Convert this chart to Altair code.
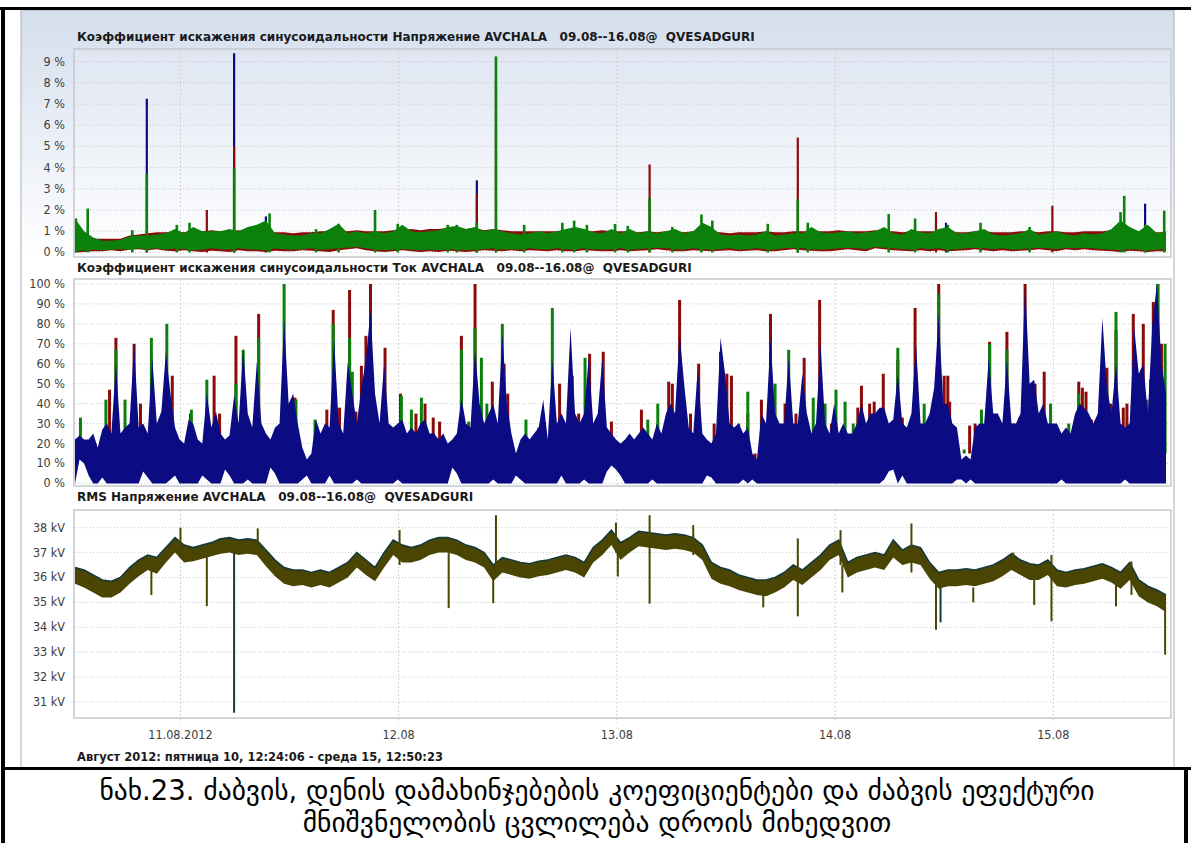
import altair as alt
import pandas as pd

# ---------------- time base ----------------
T0 = pd.Timestamp("2012-08-10 12:24:06")


def stamp(h):
    return (T0 + pd.Timedelta(hours=h)).strftime("%Y-%m-%dT%H:%M:%S")


HOURLY = [stamp(h) for h in range(121)]
HALF = [stamp(i * 0.5) for i in range(241)]

# ---------------- panel 1: THD voltage, % (hourly) ----------------
thdu_green_hi = [1.6, 1.0, 0.7, 0.55, 0.55, 0.6, 0.75, 0.8, 0.8, 0.85,
                 0.9, 1.1, 0.9, 1.2, 1.0, 1.0, 1.0, 1.1, 1.0, 1.2,
                 1.3, 1.5, 0.9, 0.85, 0.8, 0.8, 0.9, 0.9, 1.1, 1.35,
                 0.9, 1.0, 0.9, 1.0, 0.9, 1.0, 1.3, 1.0, 0.95, 1.0,
                 1.05, 1.2, 1.25, 1.1, 1.2, 1.0, 1.1, 1.0, 0.9, 0.85,
                 0.9, 1.0, 0.9, 1.0, 1.1, 1.2, 1.1, 0.95, 0.9, 1.1,
                 0.9, 1.1, 0.9, 1.0, 0.9, 1.0, 1.1, 0.9, 1.0, 1.4,
                 1.2, 0.85, 0.8, 0.85, 0.8, 0.85, 1.0, 0.8, 0.85, 0.9,
                 0.9, 1.2, 0.95, 0.9, 0.95, 1.0, 0.9, 0.95, 1.0, 1.2,
                 0.9, 0.85, 1.1, 0.95, 0.9, 1.1, 1.2, 0.9, 0.9, 1.0,
                 1.1, 0.85, 0.8, 0.85, 0.9, 1.1, 0.85, 0.9, 1.0, 0.85,
                 0.8, 0.9, 0.85, 0.9, 1.1, 1.5, 1.2, 1.0, 1.3, 0.9,
                 1.0]
thdu_green_lo = [0.05, 0.08, 0.12, 0.1, 0.12, 0.15, 0.12, 0.18, 0.15, 0.2,
                 0.12, 0.18, 0.15, 0.1, 0.12, 0.2, 0.15, 0.12, 0.2, 0.15,
                 0.12, 0.1, 0.18, 0.15, 0.12, 0.15, 0.2, 0.12, 0.15, 0.2,
                 0.22, 0.25, 0.2, 0.12, 0.1, 0.12, 0.15, 0.12, 0.1, 0.12,
                 0.1, 0.15, 0.12, 0.1, 0.12, 0.15, 0.2, 0.12, 0.15, 0.12,
                 0.2, 0.15, 0.12, 0.2, 0.15, 0.12, 0.2, 0.15, 0.12, 0.15,
                 0.2, 0.12, 0.15, 0.2, 0.22, 0.2, 0.15, 0.12, 0.2, 0.15,
                 0.12, 0.15, 0.2, 0.12, 0.15, 0.2, 0.15, 0.12, 0.2, 0.22,
                 0.2, 0.15, 0.12, 0.15, 0.2, 0.22, 0.2, 0.15, 0.25, 0.22,
                 0.2, 0.15, 0.12, 0.2, 0.15, 0.2, 0.12, 0.15, 0.2, 0.22,
                 0.2, 0.15, 0.2, 0.12, 0.15, 0.2, 0.22, 0.2, 0.15, 0.22,
                 0.2, 0.22, 0.2, 0.15, 0.12, 0.1, 0.15, 0.12, 0.08, 0.12,
                 0.15]
thdu_red_hi = [1.0, 0.8, 0.65, 0.65, 0.65, 0.65, 0.8, 0.85, 0.9, 0.95,
               0.95, 1.0, 0.95, 1.0, 1.0, 1.05, 1.0, 1.0, 1.05, 1.0,
               1.05, 1.0, 0.95, 0.95, 0.9, 0.95, 0.95, 1.0, 1.0, 1.05,
               1.0, 1.05, 1.0, 1.0, 1.0, 1.05, 1.05, 1.1, 1.05, 1.1,
               1.1, 1.15, 1.15, 1.1, 1.15, 1.05, 1.1, 1.05, 1.0, 1.0,
               1.0, 1.0, 1.0, 1.0, 1.05, 1.0, 1.0, 1.0, 1.05, 1.0,
               1.0, 1.0, 0.95, 1.0, 0.95, 1.0, 1.0, 0.95, 1.0, 1.0,
               0.95, 0.95, 0.9, 0.95, 0.95, 0.95, 1.0, 0.95, 0.95, 1.0,
               1.0, 1.0, 1.0, 1.0, 1.05, 1.0, 1.0, 1.0, 1.05, 1.0,
               1.0, 0.95, 1.0, 1.0, 1.0, 1.0, 1.05, 0.95, 0.95, 1.0,
               1.0, 0.95, 0.95, 0.95, 1.0, 1.0, 0.95, 1.0, 1.0, 0.95,
               0.95, 1.0, 1.0, 1.0, 1.05, 1.0, 1.0, 0.95, 1.0, 0.95,
               0.95]
thdu_red_lo = [0.0, 0.02, 0.05, 0.05, 0.1, 0.05, 0.12, 0.15, 0.1, 0.15,
               0.08, 0.05, 0.1, 0.05, 0.02, 0.08, 0.05, 0.02, 0.1, 0.05,
               0.05, 0.02, 0.08, 0.05, 0.05, 0.1, 0.08, 0.05, 0.02, 0.1,
               0.15, 0.2, 0.1, 0.05, 0.02, 0.05, 0.1, 0.05, 0.02, 0.05,
               0.02, 0.08, 0.05, 0.02, 0.05, 0.1, 0.08, 0.05, 0.1, 0.05,
               0.1, 0.08, 0.05, 0.1, 0.05, 0.05, 0.1, 0.08, 0.05, 0.05,
               0.1, 0.05, 0.08, 0.1, 0.15, 0.1, 0.05, 0.05, 0.1, 0.08,
               0.05, 0.08, 0.1, 0.05, 0.08, 0.1, 0.05, 0.05, 0.1, 0.15,
               0.1, 0.08, 0.05, 0.05, 0.1, 0.15, 0.1, 0.05, 0.2, 0.15,
               0.1, 0.08, 0.05, 0.1, 0.05, 0.1, 0.05, 0.08, 0.1, 0.15,
               0.1, 0.05, 0.1, 0.05, 0.08, 0.1, 0.15, 0.1, 0.05, 0.15,
               0.1, 0.15, 0.1, 0.08, 0.05, 0.02, 0.08, 0.05, 0.02, 0.05,
               0.05]
# spikes (hour offset, peak %)
thdu_blue_spk_h = [7.9, 17.5, 21.0, 44.2, 95.8, 117.7]
thdu_blue_spk_v = [7.25, 9.4, 1.7, 3.4, 1.4, 2.3]
thdu_red_spk_h = [14.5, 17.5, 44.2, 46.3, 63.2, 79.5, 94.7, 107.5]
thdu_red_spk_v = [2.0, 5.0, 2.75, 8.2, 4.15, 5.42, 1.9, 2.2]
thdu_green_spk_h = [0.1, 1.4, 6.3, 7.9, 11.2, 12.6, 17.5, 21.4, 26.5, 29.0,
                    33.0, 35.5, 41.0, 42.0, 44.2, 46.3, 49.4, 53.6, 54.9, 56.3,
                    59.4, 60.8, 63.2, 65.7, 68.9, 70.1, 76.2, 79.5, 80.6, 89.5,
                    92.4, 96.0, 99.6, 105.0, 115.0, 115.4, 117.7, 119.8]
thdu_green_spk_v = [1.6, 2.07, 1.05, 3.7, 1.3, 1.4, 3.96, 1.84, 1.1, 1.35,
                    2.0, 1.35, 1.3, 1.3, 1.4, 9.25, 1.3, 1.4, 1.5, 1.3,
                    1.34, 1.25, 2.55, 1.2, 1.79, 1.5, 1.35, 2.5, 1.4, 1.81,
                    1.6, 1.3, 1.4, 1.2, 1.9, 2.67, 1.3, 1.97]

# ---------------- panel 2: THD current, % (half-hourly) ----------------
thdi_blue_hi = [22, 24, 22, 22, 25, 18, 27, 30, 25, 60,
                25, 28, 30, 70, 28, 30, 25, 63, 30, 36,
                66, 45, 28, 22, 20, 32, 30, 22, 20, 45,
                28, 36, 25, 22, 24, 44, 30, 68, 35, 28,
                61, 30, 25, 22, 28, 30, 82, 40, 45, 30,
                18, 12, 15, 32, 25, 30, 28, 72, 30, 25,
                61, 45, 30, 48, 62, 87, 45, 30, 60, 30,
                28, 30, 32, 25, 28, 25, 30, 32, 25, 25,
                22, 25, 20, 22, 25, 43, 30, 28, 67, 40,
                30, 35, 40, 30, 75, 40, 25, 15, 22, 25,
                22, 25, 28, 42, 22, 62, 30, 35, 30, 78,
                35, 30, 35, 63, 30, 35, 63, 28, 25, 22,
                20, 22, 25, 22, 25, 28, 25, 22, 30, 25,
                35, 40, 35, 75, 50, 28, 25, 58, 25, 22,
                20, 25, 73, 55, 30, 28, 30, 25, 28, 15,
                12, 35, 30, 73, 35, 30, 30, 63, 30, 30,
                55, 35, 25, 30, 70, 30, 25, 40, 25, 30,
                25, 25, 30, 40, 30, 35, 35, 38, 38, 30,
                32, 55, 30, 28, 35, 70, 30, 30, 35, 48,
                85, 40, 40, 30, 28, 12, 14, 12, 28, 30,
                30, 63, 35, 35, 30, 62, 30, 30, 35, 100,
                50, 52, 35, 40, 30, 30, 30, 25, 28, 25,
                35, 40, 38, 35, 30, 35, 83, 48, 35, 60,
                30, 28, 30, 78, 55, 60, 35, 80, 100, 60,
                45]
thdi_blue_lo = [0, 12, 10, 4, 0, 0, 3, 0, 0, 0,
                0, 0, 0, 0, 0, 6, 3, 0, 0, 0,
                0, 2, 4, 0, 0, 0, 0, 0, 4, 2,
                0, 0, 0, 7, 4, 0, 0, 0, 2, 0,
                0, 0, 0, 8, 5, 0, 0, 0, 0, 0,
                2, 4, 0, 0, 0, 0, 4, 0, 0, 0,
                0, 0, 2, 0, 0, 0, 0, 0, 0, 0,
                0, 2, 0, 0, 0, 0, 0, 0, 0, 0,
                0, 0, 0, 8, 5, 0, 0, 0, 0, 0,
                0, 0, 2, 0, 0, 0, 0, 4, 2, 0,
                0, 0, 0, 0, 0, 0, 0, 4, 0, 0,
                0, 0, 2, 0, 0, 0, 0, 6, 9, 7,
                4, 0, 0, 0, 0, 0, 0, 2, 0, 0,
                0, 0, 0, 0, 0, 0, 0, 0, 0, 4,
                3, 0, 0, 0, 0, 0, 0, 2, 0, 2,
                0, 0, 0, 0, 0, 0, 0, 0, 0, 0,
                0, 0, 0, 0, 0, 0, 0, 0, 0, 0,
                0, 0, 0, 0, 0, 0, 0, 0, 2, 6,
                7, 0, 4, 0, 0, 0, 0, 0, 0, 0,
                0, 0, 0, 0, 2, 2, 0, 2, 0, 0,
                0, 0, 0, 0, 0, 0, 0, 0, 0, 0,
                0, 0, 0, 0, 0, 0, 0, 2, 0, 0,
                0, 0, 0, 0, 0, 0, 0, 0, 0, 0,
                0, 2, 0, 0, 0, 0, 0, 0, 0, 0,
                0]
thdi_red_h = [3.8, 4.5, 6.5, 7.2, 10.7, 12.7, 15.3, 15.9, 17.7, 20.2,
              24.2, 27.7, 28.4, 29.1, 30.2, 30.9, 31.5, 32.0, 32.5, 34.1,
              35.8, 37.5, 38.5, 39.4, 40.1, 42.5, 44.0, 45.9, 47.2, 47.6,
              53.3, 55.4, 56.6, 57.6, 58.1, 59.0, 62.3, 65.3, 65.7, 66.5,
              67.7, 68.6, 70.3, 71.0, 71.7, 72.2, 74.0, 74.8, 75.5, 76.5,
              78.1, 79.3, 80.2, 81.9, 83.2, 86.1, 86.5, 87.4, 87.9, 88.9,
              90.5, 91.0, 92.4, 95.0, 95.6, 96.0, 96.2, 98.4, 99.0, 100.6,
              101.6, 102.5, 103.2, 103.9, 104.5, 105.6, 106.6, 110.4, 110.8, 111.2,
              111.8, 113.5, 113.9, 114.5, 115.3, 115.7, 116.4, 117.5, 118.3, 118.6,
              119.1, 119.5]
thdi_red_v = [47, 73, 70, 40, 54, 35, 54, 35, 74, 85,
              43, 37, 87, 38, 97, 36, 59, 74, 100, 68,
              45, 35, 40, 33, 31, 74, 100, 51, 60, 45,
              50, 35, 65, 32, 66, 31, 37, 51, 50, 92,
              35, 60, 30, 66, 55, 54, 35, 12, 42, 85,
              40, 35, 63, 92, 30, 38, 49, 40, 41, 55,
              62, 33, 88, 100, 54, 54, 41, 29, 30, 71,
              30, 76, 30, 33, 100, 50, 56, 51, 48, 46,
              32, 58, 40, 77, 38, 40, 85, 80, 52, 91,
              100, 70]
thdi_green_h = [0.6, 3.4, 4.5, 5.5, 8.4, 10.1, 12.8, 14.5, 17.7, 18.5,
                20.2, 23.0, 24.3, 26.4, 28.4, 30.2, 30.5, 33.4, 35.9, 37.0,
                38.1, 42.5, 43.3, 44.0, 44.7, 45.3, 47.0, 49.6, 51.0, 52.5,
                54.7, 56.1, 63.0, 64.1, 73.0, 74.0, 77.0, 78.5, 81.2, 82.5,
                83.7, 84.4, 84.7, 85.6, 90.5, 93.4, 95.0, 97.8, 99.7, 100.6,
                102.5, 106.2, 107.3, 109.3, 110.4, 113.5, 114.5, 117.9, 119.1, 119.9]
thdi_green_v = [33, 42, 67, 42, 73, 80, 37, 52, 50, 67,
                73, 100, 42, 32, 80, 73, 56, 30, 44, 37,
                43, 67, 31, 78, 63, 40, 80, 32, 28, 88,
                54, 63, 32, 40, 30, 46, 50, 67, 43, 40,
                47, 28, 41, 30, 68, 40, 95, 17, 37, 70,
                67, 35, 40, 30, 45, 48, 86, 42, 100, 70]

# ---------------- panel 3: RMS voltage, kV (hourly) ----------------
rms_hi = [36.4, 36.3, 36.1, 35.9, 35.85, 36.0, 36.4, 36.7, 36.9, 36.8,
          37.2, 37.6, 37.3, 37.2, 37.3, 37.4, 37.55, 37.6, 37.5, 37.55,
          37.5, 37.1, 36.7, 36.4, 36.3, 36.3, 36.2, 36.3, 36.2, 36.4,
          36.6, 37.0, 36.7, 36.4, 37.0, 37.5, 37.3, 37.2, 37.3, 37.5,
          37.6, 37.6, 37.5, 37.3, 37.2, 37.0, 36.5, 36.8, 36.7, 36.6,
          36.55, 36.65, 36.7, 36.8, 36.9, 36.8, 36.6, 37.2, 37.5, 37.9,
          37.4, 37.6, 37.85, 37.8, 37.75, 37.7, 37.75, 37.7, 37.6, 37.3,
          36.6, 36.4, 36.3, 36.1, 36.0, 35.9, 35.9, 36.0, 36.2, 36.5,
          36.3, 36.6, 36.9, 37.3, 37.5, 36.6, 36.8, 36.9, 37.0, 36.9,
          37.5, 37.1, 37.3, 37.2, 36.6, 36.2, 36.3, 36.3, 36.35, 36.3,
          36.4, 36.5, 36.7, 36.95, 36.7, 36.55, 36.5, 36.7, 36.3, 36.2,
          36.3, 36.35, 36.45, 36.55, 36.4, 36.2, 36.6, 35.9, 35.65, 35.5,
          35.3]
rms_lo = [35.75, 35.6, 35.4, 35.2, 35.2, 35.4, 35.75, 36.05, 36.3, 36.15,
          36.6, 37.0, 36.6, 36.65, 36.75, 36.85, 36.95, 37.0, 36.9, 36.95,
          36.9, 36.45, 36.05, 35.75, 35.65, 35.7, 35.6, 35.7, 35.6, 35.8,
          36.0, 36.4, 36.1, 35.85, 36.4, 36.9, 36.6, 36.6, 36.7, 36.9,
          37.0, 37.0, 36.9, 36.7, 36.6, 36.4, 35.85, 36.2, 36.1, 36.0,
          35.95, 36.05, 36.1, 36.2, 36.3, 36.2, 36.0, 36.6, 36.9, 37.3,
          36.7, 37.0, 37.25, 37.2, 37.15, 37.1, 37.15, 37.1, 37.0, 36.7,
          35.95, 35.75, 35.65, 35.5, 35.4, 35.3, 35.25, 35.4, 35.6, 35.9,
          35.7, 36.0, 36.3, 36.7, 36.9, 36.0, 36.2, 36.3, 36.4, 36.3,
          36.8, 36.5, 36.6, 36.5, 35.95, 35.55, 35.65, 35.65, 35.7, 35.65,
          35.75, 35.85, 36.05, 36.3, 36.1, 35.9, 35.9, 36.1, 35.65, 35.6,
          35.7, 35.75, 35.85, 35.95, 35.8, 35.55, 35.9, 35.25, 35.0, 34.85,
          34.6]
rms_spk_h = [8.4, 11.6, 14.5, 20.1, 35.7, 41.1, 46.0, 46.3, 59.5, 59.7,
             63.2, 68.0, 75.7, 79.5, 84.2, 84.4, 92.0, 94.7, 98.8, 103.2,
             105.5, 107.4, 114.5, 116.2, 119.9]
rms_spk_lo = [35.3, 36.8, 34.85, 37.0, 36.5, 34.77, 34.97, 36.3, 37.0, 36.04,
              34.95, 36.9, 34.8, 34.44, 36.5, 35.4, 36.2, 33.9, 35.0, 36.3,
              34.9, 34.24, 34.84, 35.3, 32.9]
rms_spk_hi = [36.5, 38.0, 37.0, 37.97, 37.9, 37.0, 36.0, 38.5, 38.2, 37.0,
              38.5, 38.1, 35.6, 37.57, 37.9, 36.5, 38.17, 35.8, 35.6, 37.0,
              35.9, 36.9, 35.8, 36.64, 35.0]
rms_teal_spk_h = [17.5, 95.2]
rms_teal_spk_lo = [30.57, 34.2]
rms_teal_spk_hi = [37.0, 35.6]

# ---------------- axes text ----------------
ticks_thdu = [0, 1, 2, 3, 4, 5, 6, 7, 8, 9]
ticks_thdi = [0, 10, 20, 30, 40, 50, 60, 70, 80, 90, 100]
ticks_rms = [31, 32, 33, 34, 35, 36, 37, 38]
day_times = ["2012-08-11T00:00:00", "2012-08-12T00:00:00", "2012-08-13T00:00:00",
             "2012-08-14T00:00:00", "2012-08-15T00:00:00"]
day_labels = ["11.08.2012", "12.08", "13.08", "14.08", "15.08"]

title_u = "Коэффициент искажения синусоидальности Напряжение AVCHALA\u00a0\u00a0\u00a009.08--16.08@\u00a0\u00a0QVESADGURI"
title_i = "Коэффициент искажения синусоидальности Ток AVCHALA\u00a0\u00a0\u00a009.08--16.08@\u00a0\u00a0QVESADGURI"
title_r = "RMS Напряжение AVCHALA\u00a0\u00a0\u00a009.08--16.08@\u00a0\u00a0QVESADGURI"
footer = "Август 2012: пятница 10, 12:24:06 - среда 15, 12:50:23"
caption_1 = "ნახ.23. ძაბვის, დენის დამახინჯებების კოეფიციენტები და ძაბვის ეფექტური"
caption_2 = "მნიშვნელობის ცვლილება დროის მიხედვით"

assert len(thdu_green_hi) == len(thdu_green_lo) == len(thdu_red_hi) == len(thdu_red_lo) == 121
assert len(thdi_blue_hi) == len(thdi_blue_lo) == 241
assert len(rms_hi) == len(rms_lo) == 121
assert len(thdi_red_h) == len(thdi_red_v) and len(thdi_green_h) == len(thdi_green_v)
assert len(thdu_green_spk_h) == len(thdu_green_spk_v)
assert len(rms_spk_h) == len(rms_spk_lo) == len(rms_spk_hi)

# ---------------- styles ----------------
RED = "#8b0b0b"
GREEN = "#0b800b"
BLUE = "#0b0b84"
OLIVE = "#4a4502"
TEAL = "#143a3c"
GRID = "#c9c9c9"
LBL_FONT = "Liberation Sans Narrow, DejaVu Sans Condensed, sans-serif"
TTL_FONT = "DejaVu Sans, sans-serif"
SPIKE_BASE_I = 15  # current-THD tips start inside the blue mass

XL, XR = 75, 1170
P1 = (49, 257)
P2 = (279, 486)
P3 = (510, 718)

xscale = alt.Scale(
    domain=[alt.DateTime(year=2012, month=8, date=10, hours=12, minutes=24, seconds=6),
            alt.DateTime(year=2012, month=8, date=15, hours=12, minutes=50, seconds=23)],
    range=[XL, XR])
X = alt.X("t:T", scale=xscale, axis=None)

s1 = alt.Scale(domain=[-0.17, 9.6], range=[256, 49], nice=False, zero=False)
s2 = alt.Scale(domain=[-0.8, 102.5], range=[485, 279], nice=False, zero=False)
s3 = alt.Scale(domain=[30.37, 38.71], range=[717.7, 510], nice=False, zero=False)

ONE = pd.DataFrame({"k": [0]})


def box(x, x2, y, y2, **kw):
    return alt.Chart(ONE).mark_rect(**kw).encode(
        x=alt.value(x), x2=alt.value(x2), y=alt.value(y), y2=alt.value(y2))


def label(text, x, y, **kw):
    return alt.Chart(ONE).mark_text(text=text, **kw).encode(x=alt.value(x), y=alt.value(y))


def band(times, lo, hi, scale, color):
    df = pd.DataFrame({"t": times, "lo": lo, "hi": hi})
    return alt.Chart(df).mark_area(color=color, opacity=1, interpolate="linear").encode(
        x=X, y=alt.Y("lo:Q", scale=scale, axis=None), y2=alt.Y2("hi:Q"))


def spikes(hours, lo, hi, scale, color, width):
    df = pd.DataFrame({"t": [stamp(h) for h in hours], "lo": lo, "hi": hi})
    return alt.Chart(df).mark_rule(color=color, strokeWidth=width).encode(
        x=X, y=alt.Y("lo:Q", scale=scale, axis=None), y2=alt.Y2("hi:Q"))


def hgrid(ticks, scale):
    df = pd.DataFrame({"v": ticks})
    return alt.Chart(df).mark_rule(color=GRID, strokeWidth=1, strokeDash=[1, 2]).encode(
        y=alt.Y("v:Q", scale=scale, axis=None), x=alt.value(XL), x2=alt.value(XR))


def vgrid(top, bottom):
    df = pd.DataFrame({"t": day_times})
    return alt.Chart(df).mark_rule(color="#d0d0d0", strokeWidth=1, strokeDash=[2, 2]).encode(
        x=X, y=alt.value(top), y2=alt.value(bottom))


def ylabels(ticks, texts, scale):
    df = pd.DataFrame({"v": ticks, "s": texts})
    return alt.Chart(df).mark_text(align="right", baseline="middle", font=LBL_FONT,
                                   fontSize=12.5, color="#3c3c3c").encode(
        y=alt.Y("v:Q", scale=scale, axis=None), x=alt.value(65), text="s:N")


def const(n, v):
    return [v] * n


layers = [
    # screenshot background
    box(21, 1174, 10, 258, fill=alt.Gradient(
        gradient="linear", x1=0, x2=0, y1=0, y2=1,
        stops=[alt.GradientStop(color="#d4deed", offset=0),
               alt.GradientStop(color="#ffffff", offset=1)])),
    box(XL, XR, P1[0], P1[1], fill=alt.Gradient(
        gradient="linear", x1=0, x2=0, y1=0, y2=1,
        stops=[alt.GradientStop(color="#dfe6f2", offset=0),
               alt.GradientStop(color="#ffffff", offset=1)])),
    # grids
    hgrid(ticks_thdu, s1), hgrid(ticks_thdi, s2), hgrid(ticks_rms, s3),
    vgrid(P1[0], P1[1]), vgrid(P2[0], P2[1]), vgrid(P3[0], P3[1] + 5),
    # panel 1 data
    spikes(thdu_blue_spk_h, const(len(thdu_blue_spk_h), 0), thdu_blue_spk_v, s1, BLUE, 2.2),
    band(HOURLY, thdu_red_lo, thdu_red_hi, s1, RED),
    spikes(thdu_red_spk_h, const(len(thdu_red_spk_h), 0), thdu_red_spk_v, s1, RED, 2.2),
    band(HOURLY, thdu_green_lo, thdu_green_hi, s1, GREEN),
    spikes(thdu_green_spk_h, const(len(thdu_green_spk_h), 0), thdu_green_spk_v, s1, GREEN, 2.6),
    # panel 2 data
    spikes(thdi_red_h, const(len(thdi_red_h), SPIKE_BASE_I), thdi_red_v, s2, RED, 3),
    spikes(thdi_green_h, const(len(thdi_green_h), SPIKE_BASE_I), thdi_green_v, s2, GREEN, 3),
    band(HALF, thdi_blue_lo, thdi_blue_hi, s2, BLUE),
    # panel 3 data
    band(HOURLY, rms_lo, rms_hi, s3, OLIVE),
    alt.Chart(pd.DataFrame({"t": HOURLY, "v": rms_hi})).mark_line(color=TEAL, strokeWidth=1.6).encode(
        x=X, y=alt.Y("v:Q", scale=s3, axis=None)),
    spikes(rms_spk_h, rms_spk_lo, rms_spk_hi, s3, OLIVE, 2),
    spikes(rms_teal_spk_h, rms_teal_spk_lo, rms_teal_spk_hi, s3, TEAL, 2),
    # plot frames
    box(XL - 1, XR + 1, P1[0], P1[1], fillOpacity=0, stroke="#c3c8cf", strokeWidth=1.5),
    box(XL - 1, XR + 1, P2[0], P2[1], fillOpacity=0, stroke="#c3c8cf", strokeWidth=1.5),
    box(XL - 1, XR + 1, P3[0], P3[1], fillOpacity=0, stroke="#c3c8cf", strokeWidth=1.5),
    # y labels
    ylabels(ticks_thdu, [f"{v} %" for v in ticks_thdu], s1),
    ylabels(ticks_thdi, [f"{v} %" for v in ticks_thdi], s2),
    ylabels(ticks_rms, [f"{v} kV" for v in ticks_rms], s3),
    # x labels
    alt.Chart(pd.DataFrame({"t": day_times, "s": day_labels})).mark_text(
        align="center", baseline="middle", font=LBL_FONT, fontSize=12.5, color="#3c3c3c").encode(
        x=X, y=alt.value(735), text="s:N"),
    # titles
    label(title_u, 77, 37, align="left", baseline="middle", font=TTL_FONT, fontWeight="bold",
          fontSize=12, color="#1a1a1a"),
    label(title_i, 77, 268, align="left", baseline="middle", font=TTL_FONT, fontWeight="bold",
          fontSize=12, color="#1a1a1a"),
    label(title_r, 77, 497, align="left", baseline="middle", font=TTL_FONT, fontWeight="bold",
          fontSize=12, color="#1a1a1a"),
    label(footer, 77, 758, align="left", baseline="middle", font=TTL_FONT, fontWeight="bold",
          fontSize=11.5, color="#1a1a1a"),
    # screenshot border
    box(21, 1174, 10, 768, fillOpacity=0, stroke="#a9b0ba", strokeWidth=1),
    # black frame
    box(0, 1191, 7, 10, fill="#000000"),
    box(1, 5, 7, 843, fill="#000000"),
    box(1, 1191, 767, 770, fill="#000000"),
    box(1184, 1188, 767, 843, fill="#000000"),
    # caption
    label(caption_1, 597, 792, align="center", baseline="middle", font="DejaVu Sans",
          fontSize=27.5, color="#000000"),
    label(caption_2, 597, 824, align="center", baseline="middle", font="DejaVu Sans",
          fontSize=27.5, color="#000000"),
]

chart = alt.layer(*layers).resolve_scale(y="independent").properties(
    width=1191, height=843, padding=0, background="#ffffff",
    autosize=alt.AutoSizeParams(type="none"),
).configure_view(stroke=None)

chart.save("out.html", embed_options={"renderer": "svg", "actions": False})
